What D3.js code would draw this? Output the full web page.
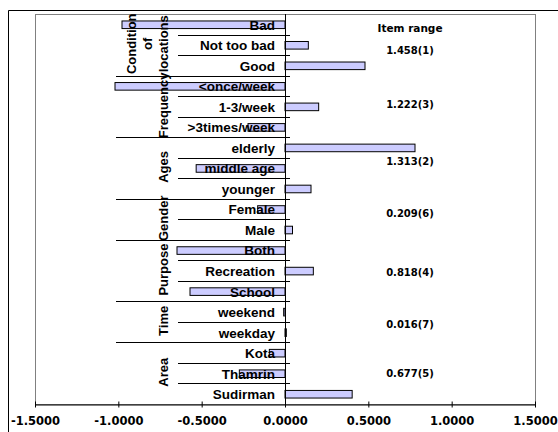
<!DOCTYPE html>
<html>
<head>
<meta charset="utf-8">
<script src="https://cdn.jsdelivr.net/npm/d3@7"></script>
<style>
  html, body { margin: 0; padding: 0; background: #fff; }
  svg { display: block; }
</style>
</head>
<body>
<svg id="chart" width="558" height="432"></svg>
<script>
// Category items, top to bottom
const categories = [
  "Bad", "Not too bad", "Good",
  "<once/week", "1-3/week", ">3times/week",
  "elderly", "middle age", "younger",
  "Female", "Male",
  "Both", "Recreation", "School",
  "weekend", "weekday",
  "Kota", "Thamrin", "Sudirman"
];
// Score of each item
const values = [
  -0.978, 0.140, 0.480,
  -1.020, 0.202, -0.222,
  0.780, -0.533, 0.156,
  -0.164, 0.045,
  -0.648, 0.170, -0.570,
  -0.008, 0.008,
  -0.094, -0.274, 0.403
];
// Grouping of the items (label lines and item counts)
const groupLabels = [["Condition", "of", "locations"], ["Frequency"], ["Ages"], ["Gender"], ["Purpose"], ["Time"], ["Area"]];
const groupSizes = [3, 3, 3, 2, 3, 2, 3];
// Range of scores within each group, with rank
const itemRanges = ["1.458(1)", "1.222(3)", "1.313(2)", "0.209(6)", "0.818(4)", "0.016(7)", "0.677(5)"];
const rangeTitle = "Item range";
const xTicks = [-1.5, -1.0, -0.5, 0.0, 0.5, 1.0, 1.5];

const svg = d3.select("#chart");
const plot = { left: 35, top: 14, right: 535, bottom: 404 };

const x = d3.scaleLinear().domain([-1.5, 1.5]).range([plot.left, plot.right]);
const y = d3.scaleBand().domain(categories).range([plot.top, plot.bottom])
  .paddingInner(0.63).paddingOuter(0.315);
const step = y.step();

const fmt = d3.formatLocale({ decimal: ".", thousands: ",", grouping: [3], currency: ["", ""], minus: "-" }).format(".4f");

// outer frame
svg.append("path")
  .attr("d", "M8.5,432 V10.5 H558")
  .attr("fill", "none").attr("stroke", "#000").attr("stroke-width", 1);

// plot area border
svg.append("rect")
  .attr("x", plot.left + 0.5).attr("y", plot.top + 0.5)
  .attr("width", plot.right - plot.left).attr("height", plot.bottom - plot.top)
  .attr("fill", "#fff").attr("stroke", "#808080").attr("stroke-width", 1);

// row separators: short ones within a group, long ones between groups
const groupEnds = [];
let acc = 0;
groupSizes.forEach(s => { acc += s; groupEnds.push(acc); });
const starts = [0].concat(groupEnds.slice(0, -1));

const sepIdx = d3.range(1, categories.length);
svg.append("g").selectAll("line").data(sepIdx).join("line")
  .attr("x1", k => groupEnds.includes(k) ? 116 : 178)
  .attr("x2", x(0) + 5)
  .attr("y1", k => Math.round(plot.top + k * step) + 0.5)
  .attr("y2", k => Math.round(plot.top + k * step) + 0.5)
  .attr("stroke", "#000").attr("stroke-width", 1);

// bars
svg.append("g").selectAll("rect").data(categories).join("rect")
  .attr("x", (d, i) => x(Math.min(0, values[i])))
  .attr("y", d => y(d) + 0.5)
  .attr("width", (d, i) => Math.max(1, Math.abs(x(values[i]) - x(0))))
  .attr("height", y.bandwidth())
  .attr("fill", "#ccccff")
  .attr("stroke", "#000").attr("stroke-width", 1);

// category labels via a left axis placed at zero, drawn over the bars
const yAxis = svg.append("g")
  .attr("transform", `translate(${x(0)},0)`)
  .call(d3.axisLeft(y).tickSize(0).tickPadding(10));
yAxis.select(".domain").remove();
yAxis.selectAll("text")
  .attr("font-family", "'Liberation Sans', Arial, sans-serif")
  .attr("font-weight", "bold")
  .attr("font-size", 13.5)
  .attr("fill", "#000")
  .attr("dy", "0.40em");

// group labels, rotated
const lineGap = 16;
const gLab = svg.append("g");
groupLabels.forEach((lines, gi) => {
  const cy = plot.top + (starts[gi] + groupSizes[gi] / 2) * step;
  const n = lines.length;
  lines.forEach((t, li) => {
    const bx = 168 - (n - 1 - li) * lineGap;
    gLab.append("text")
      .attr("transform", `translate(${bx},${cy - 1}) rotate(-90)`)
      .attr("text-anchor", "middle")
      .attr("font-family", "'Liberation Sans', Arial, sans-serif")
      .attr("font-weight", "bold")
      .attr("font-size", 13)
      .attr("fill", "#000")
      .text(t);
  });
});

// value axis line at zero
svg.append("line")
  .attr("x1", x(0) + 0.5).attr("x2", x(0) + 0.5)
  .attr("y1", plot.top).attr("y2", plot.bottom)
  .attr("stroke", "#000").attr("stroke-width", 1);

// bottom axis
const xAxis = svg.append("g")
  .attr("transform", `translate(0,${plot.bottom + 0.5})`)
  .call(d3.axisBottom(x).tickValues(xTicks).tickFormat(fmt).tickSizeOuter(0));
xAxis.select(".domain").attr("stroke", "#000");
xAxis.selectAll(".tick line").attr("y1", -3).attr("y2", 3).attr("stroke", "#000");
xAxis.selectAll(".tick text")
  .attr("y", 20.5).attr("dy", 0)
  .attr("font-family", "'DejaVu Sans', sans-serif")
  .attr("font-weight", "bold")
  .attr("font-size", 11.5)
  .attr("fill", "#000");

// item range column
const rangeX = 410;
const rangeNudge = [6, -2, -6, -6, 2, 3, 0];
svg.append("text")
  .attr("x", rangeX).attr("y", 32)
  .attr("text-anchor", "middle")
  .attr("font-family", "'DejaVu Sans', sans-serif")
  .attr("font-weight", "bold")
  .attr("font-size", 10.5)
  .attr("fill", "#000")
  .text(rangeTitle);
svg.append("g").selectAll("text").data(itemRanges).join("text")
  .attr("x", rangeX)
  .attr("y", (d, gi) => plot.top + (starts[gi] + groupSizes[gi] / 2) * step + rangeNudge[gi] + 3.5)
  .attr("text-anchor", "middle")
  .attr("font-family", "'DejaVu Sans', sans-serif")
  .attr("font-weight", "bold")
  .attr("font-size", 10)
  .attr("fill", "#000")
  .text(d => d);
</script>
</body>
</html>
